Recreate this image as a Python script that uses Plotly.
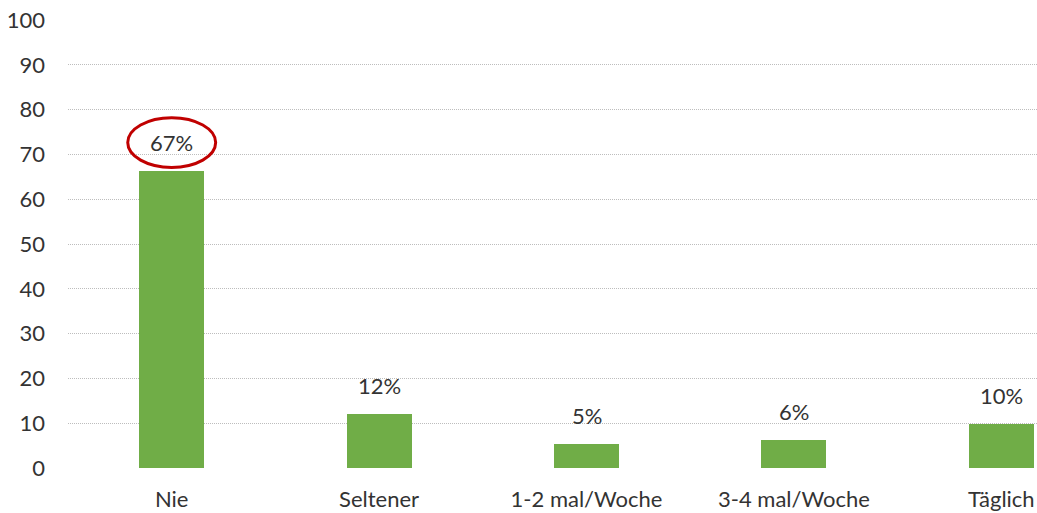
import plotly.graph_objects as go

categories = ["Nie", "Seltener", "1-2 mal/Woche", "3-4 mal/Woche", "Täglich"]
values = [66.3, 12.1, 5.4, 6.3, 9.9]
value_labels = ["67%", "12%", "5%", "6%", "10%"]
y_ticks = [0, 10, 20, 30, 40, 50, 60, 70, 80, 90, 100]

FONT = "Lato"
TXT = "#333333"
FS = 22

fig = go.Figure()
fig.add_trace(go.Bar(
    x=list(range(len(categories))), y=values,
    width=0.313,
    marker=dict(color="#70AD47", line=dict(width=0)),
    hoverinfo="skip",
))

for i, (v, lab) in enumerate(zip(values, value_labels)):
    fig.add_annotation(
        x=i, y=v, xref="x", yref="y", text=lab, showarrow=False,
        yanchor="bottom", yshift=13,
        font=dict(family=FONT, size=FS, color=TXT),
    )

# highlight ellipse around the first label
hi = 0
fig.add_shape(
    type="circle", xref="x", yref="y",
    x0=hi - 0.212, x1=hi + 0.212,
    y0=values[hi] + 0.8, y1=values[hi] + 11.9,
    line=dict(color="#C00000", width=3),
    fillcolor="rgba(0,0,0,0)",
)

fig.update_layout(
    width=1037, height=513,
    margin=dict(l=68, r=0, t=20, b=45),
    plot_bgcolor="white", paper_bgcolor="white",
    showlegend=False,
    font=dict(family=FONT, size=FS, color=TXT),
    bargap=0,
)
fig.update_xaxes(
    range=[-0.5, 4.172],
    tickmode="array", tickvals=list(range(len(categories))), ticktext=categories,
    showgrid=False, zeroline=False, showline=False, ticks="",
    ticklabelstandoff=16,
    tickfont=dict(family=FONT, size=FS, color=TXT),
)
fig.update_yaxes(
    range=[0, 100],
    tickmode="array", tickvals=y_ticks,
    showgrid=True, gridcolor="#BDBDBD", gridwidth=1, griddash="1px,1px",
    zeroline=False, showline=False, ticks="",
    ticklabelstandoff=22,
    tickfont=dict(family=FONT, size=FS, color=TXT),
)

fig.write_html("out.html")
